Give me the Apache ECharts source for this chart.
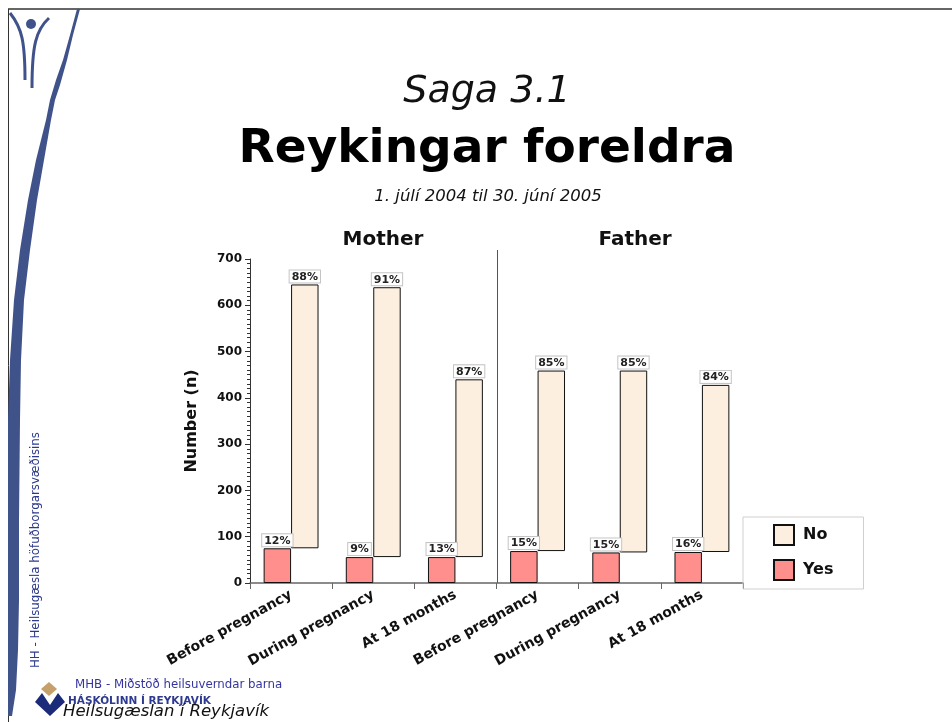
<!DOCTYPE html>
<html>
<head>
<meta charset="utf-8">
<script src="https://cdn.jsdelivr.net/npm/echarts@6/dist/echarts.min.js"></script>
<style>
html,body{margin:0;padding:0;background:#fff;}
#c{width:952px;height:722px;}
</style>
</head>
<body>
<div id="c"></div>
<script>
// ---- data ----
const categories = ['Before pregnancy','During pregnancy','At 18 months','Before pregnancy','During pregnancy','At 18 months'];
const groups = ['Mother','Father'];
const yesValues = [75, 56, 56, 69, 66, 67];
const noValues  = [570, 583, 384, 390, 393, 361];
const yesPct = [12, 9, 13, 15, 15, 16];
const noPct  = [88, 91, 87, 85, 85, 84];
const yTicks = {min: 0, max: 700, interval: 100};

const FONT = 'DejaVu Sans';
const BLUE = '#40528a';
const chart = echarts.init(document.getElementById('c'), null, {renderer: 'canvas'});

const labelBox = {
  show: true, position: 'top', distance: 2,
  fontFamily: FONT, fontSize: 11, fontWeight: 'bold', color: '#222',
  backgroundColor: '#fff', borderColor: '#c4c4c4', borderWidth: 1, padding: [1, 2, 0, 2]
};

function titleItem(text, x, y, size, style, weight, color) {
  return {text: text, left: x, top: y, textAlign: 'center', textVerticalAlign: 'middle', padding: 0,
    textStyle: {fontFamily: FONT, fontSize: size, fontStyle: style, fontWeight: weight, color: color}};
}

const option = {
  animation: false,
  backgroundColor: '#fff',
  textStyle: {fontFamily: FONT},
  title: [
    titleItem('Saga 3.1', 487, 92, 38, 'italic', 'normal', '#111'),
    titleItem('Reykingar foreldra', 487, 150, 47, 'normal', 'bold', '#000'),
    titleItem('1. júlí 2004 til 30. júní 2005', 488, 197, 16.5, 'italic', 'normal', '#111'),
    titleItem(groups[0], 383, 240, 20, 'normal', 'bold', '#111'),
    titleItem(groups[1], 635, 240, 20, 'normal', 'bold', '#111')
  ],
  legend: {
    data: ['No', 'Yes'],
    orient: 'vertical',
    left: 743, top: 517,
    padding: [7, 30, 8, 30],
    itemWidth: 20, itemHeight: 20, itemGap: 13,
    borderColor: '#cfcfcf', borderWidth: 1,
    selectedMode: false,
    icon: 'rect',
    textStyle: {fontFamily: FONT, fontSize: 16, fontWeight: 'bold', color: '#111', padding: [0, 0, 0, 4]}
  },
  grid: {left: 250, right: 209, top: 259, bottom: 139, containLabel: false},
  xAxis: {
    type: 'category',
    data: categories,
    axisLine: {lineStyle: {color: '#666', width: 1.5}},
    axisTick: {show: true, length: 6, lineStyle: {color: '#666'}},
    axisLabel: {rotate: 29, fontFamily: FONT, fontSize: 14, fontWeight: 'bold', color: '#111', margin: 11, interval: 0}
  },
  yAxis: {
    type: 'value',
    min: yTicks.min, max: yTicks.max, interval: yTicks.interval,
    name: 'Number (n)', nameLocation: 'middle', nameRotate: 90, nameGap: 50,
    nameTextStyle: {fontFamily: FONT, fontSize: 16, fontWeight: 'bold', color: '#111'},
    axisLine: {show: true, lineStyle: {color: '#333', width: 1}},
    axisTick: {show: true, length: 5, lineStyle: {color: '#333'}},
    minorTick: {show: true, splitNumber: 10, length: 3, lineStyle: {color: '#333'}},
    splitLine: {show: false},
    axisLabel: {fontFamily: FONT, fontSize: 12, fontWeight: 'bold', color: '#111', margin: 8}
  },
  series: [
    {
      name: 'Yes', type: 'bar', stack: 'yes', data: yesValues,
      barWidth: '33.4%', barGap: '0%',
      itemStyle: {color: '#ff8f8c', borderColor: '#111', borderWidth: 1},
      label: Object.assign({}, labelBox, {formatter: p => yesPct[p.dataIndex] + '%'})
    },
    {
      name: 'base', type: 'bar', stack: 'no', data: yesValues,
      barWidth: '33.4%', barGap: '0%', silent: true,
      itemStyle: {color: 'rgba(0,0,0,0)', borderWidth: 0}
    },
    {
      name: 'No', type: 'bar', stack: 'no', data: noValues,
      barWidth: '33.4%', barGap: '0%',
      itemStyle: {color: '#fdefe0', borderColor: '#111', borderWidth: 1},
      label: Object.assign({}, labelBox, {formatter: p => noPct[p.dataIndex] + '%'})
    }
  ]
};
chart.setOption(option);

// divider between the two groups, placed from the axis scales
const xA = chart.convertToPixel({xAxisIndex: 0}, 2);
const xB = chart.convertToPixel({xAxisIndex: 0}, 3);
const divX = Math.round((xA + xB) / 2) + 0.5;
const yBot = chart.convertToPixel({yAxisIndex: 0}, 0);

chart.setOption({
  graphic: [
    // frame
    {type: 'line', shape: {x1: 8, y1: 9, x2: 952, y2: 9}, style: {stroke: '#333', lineWidth: 1.5}, silent: true},
    {type: 'line', shape: {x1: 8.5, y1: 9, x2: 8.5, y2: 722}, style: {stroke: '#333', lineWidth: 1}, silent: true},
    // swoosh
    {type: 'polygon', silent: true, shape: {points: [
      [77,9],[80,9],[73,35],[67,60],[60,85],[55,100],[51,120],[44,160],[37,200],[30,250],[24,300],[21,360],[20,420],
      [19,520],[19,600],[18,650],[16,690],[12,716],
      [8,716],[8,420],[10,360],[14,300],[20,250],[28,200],[36,160],[46,120],[50,100],[56,80],[63,60],[70,35]
    ]}, style: {fill: BLUE}},
    // Y-figure logo
    {type: 'circle', silent: true, shape: {cx: 31, cy: 24, r: 5}, style: {fill: BLUE}},
    {type: 'bezierCurve', silent: true, shape: {x1: 10, y1: 13, cpx1: 22, cpy1: 28, cpx2: 25, cpy2: 42, x2: 25, y2: 80}, style: {stroke: BLUE, lineWidth: 3, fill: null}},
    {type: 'bezierCurve', silent: true, shape: {x1: 49, y1: 18, cpx1: 36, cpy1: 30, cpx2: 32, cpy2: 45, x2: 32, y2: 88}, style: {stroke: BLUE, lineWidth: 3, fill: null}},
    // group divider
    {type: 'line', silent: true, shape: {x1: divX, y1: 250, x2: divX, y2: yBot}, style: {stroke: '#555', lineWidth: 1}},
    // vertical side text
    {type: 'text', silent: true, x: 36, y: 668, rotation: Math.PI / 2,
     style: {text: 'HH - Heilsugæsla höfuðborgarsvæðisins', fontFamily: FONT, fontSize: 11.8, fill: '#2d3a8c', align: 'left', verticalAlign: 'middle'}},
    // bottom-left logo
    {type: 'polygon', silent: true, shape: {points: [[49,682],[57,689],[49,696],[41,689]]}, style: {fill: '#c6a06a'}},
    {type: 'polygon', silent: true, shape: {points: [[35,702],[42,693],[50,705],[58,693],[65,702],[50,716]]}, style: {fill: '#1c2a7a'}},
    {type: 'text', silent: true, x: 75, y: 685,
     style: {text: 'MHB - Miðstöð heilsuverndar barna', fontFamily: FONT, fontSize: 11.8, fill: '#3535a0', align: 'left', verticalAlign: 'middle'}},
    {type: 'text', silent: true, x: 68, y: 701,
     style: {text: 'HÁSKÓLINN Í REYKJAVÍK', fontFamily: FONT, fontSize: 10.5, fontWeight: 'bold', fill: '#2d3a90', align: 'left', verticalAlign: 'middle'}},
    {type: 'text', silent: true, x: 63, y: 712,
     style: {text: 'Heilsugæslan í Reykjavík', fontFamily: FONT, fontSize: 16.5, fontStyle: 'italic', fill: '#111', align: 'left', verticalAlign: 'middle'}}
  ]
});
</script>
</body>
</html>
